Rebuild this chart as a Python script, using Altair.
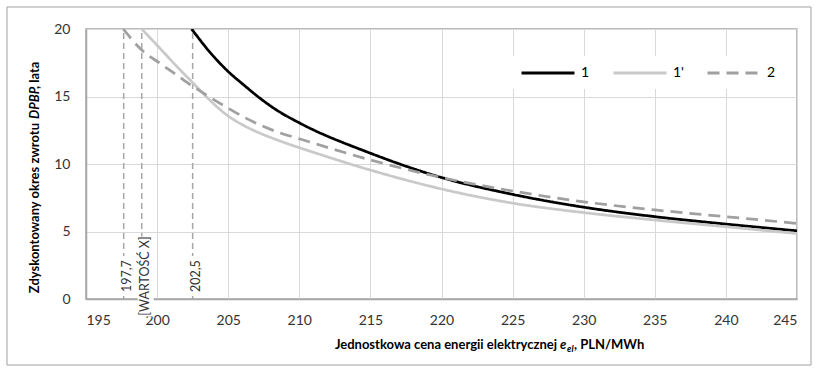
import altair as alt
import pandas as pd

# ---- data ----
series = ["1", "1'", "2"]
x_s1 = [202.43, 203.7, 204.9, 206.1, 207.2, 208.4, 210, 215, 220, 225, 230, 235, 240, 245]
y_s1 = [20.0, 18.3, 16.95, 15.85, 14.9, 14.0, 13.05, 10.8, 9.0, 7.75, 6.8, 6.1, 5.55, 5.05]
x_s1p = [198.92, 200.2, 201.4, 202.55, 203.7, 204.9, 206.1, 207.2, 208.4, 209.6, 210.75,
         215, 220, 225, 230, 235, 240, 245]
y_s1p = [20.0, 18.57, 17.21, 15.98, 14.74, 13.63, 12.85, 12.3, 11.8, 11.35, 10.95,
         9.55, 8.15, 7.1, 6.4, 5.85, 5.35, 4.85]
x_s2 = [197.62, 198.92, 200.2, 201.38, 202.55, 203.72, 204.89, 206.06, 207.24, 208.41,
        210.28, 215, 220, 225, 230, 235, 240, 245]
y_s2 = [20.0, 18.44, 17.46, 16.59, 15.73, 14.94, 14.2, 13.5, 12.89, 12.39,
        11.78, 10.3, 9.0, 8.0, 7.2, 6.6, 6.1, 5.6]
marker_x = [197.65, 198.92, 202.5]
marker_labels = ["197,7", "[WARTOŚĆ X]", "202,5"]
x_ticks = [195, 200, 205, 210, 215, 220, 225, 230, 235, 240, 245]
y_ticks = [0, 5, 10, 15, 20]

colors = ["#000000", "#c9c9c9", "#a0a0a0"]
dashes = [[1, 0], [1, 0], [12, 7]]
FONT = "Lato"

rows = []
for name, xs, ys in zip(series, [x_s1, x_s1p, x_s2], [y_s1, y_s1p, y_s2]):
    for xv, yv in zip(xs, ys):
        rows.append({"series": name, "x": xv, "y": yv})
lines_df = pd.DataFrame(rows)
markers_df = pd.DataFrame({"x": marker_x, "label": marker_labels})
one = pd.DataFrame({"k": [0]})

xscale = alt.Scale(domain=[195, 245], nice=False, zero=False)
yscale = alt.Scale(domain=[0, 20], nice=False)

legend = alt.Legend(
    title=None, orient="none", legendX=424, legendY=6, direction="horizontal",
    columns=3, symbolType="stroke", symbolSize=2809, symbolStrokeWidth=3,
    labelFont=FONT, labelFontSize=14, labelColor="#000000", labelOffset=5,
    columnPadding=17, padding=10,
)

legend_bg = alt.Chart(one).mark_rect(fill="#ffffff", strokeWidth=0).encode(
    x=alt.value(422), x2=alt.value(686), y=alt.value(27), y2=alt.value(60)
)

lines = alt.Chart(lines_df).mark_line(strokeWidth=2.75, interpolate="monotone", clip=True).encode(
    x=alt.X("x:Q", scale=xscale,
            axis=alt.Axis(values=x_ticks, title=None, grid=True, ticks=False,
                          labelPadding=14, format="d")),
    y=alt.Y("y:Q", scale=yscale,
            axis=alt.Axis(values=y_ticks, title=None, grid=True, ticks=False,
                          labelPadding=16, format="d")),
    color=alt.Color("series:N", scale=alt.Scale(domain=series, range=colors), legend=legend),
    strokeDash=alt.StrokeDash("series:N", scale=alt.Scale(domain=series, range=dashes), legend=legend),
    order=alt.Order("x:Q"),
)

rules = alt.Chart(markers_df).mark_rule(color="#a6a6a6", strokeWidth=1.5, strokeDash=[6, 4]).encode(
    x=alt.X("x:Q", scale=xscale), y=alt.datum(0, scale=yscale), y2=alt.datum(20)
)

box_small = alt.Chart(markers_df).transform_filter(
    alt.datum.label != "[WARTOŚĆ X]"
).mark_point(shape="M-0.35,-1H0.35V1H-0.35Z", size=1600, filled=True,
             fill="#ffffff", opacity=1, strokeWidth=0, xOffset=3).encode(
    x=alt.X("x:Q", scale=xscale), y=alt.datum(1.7, scale=yscale)
)
box_big = alt.Chart(markers_df).transform_filter(
    alt.datum.label == "[WARTOŚĆ X]"
).mark_point(shape="M-0.2,-1H0.2V1H-0.2Z", size=6400, filled=True,
             fill="#ffffff", opacity=1, strokeWidth=0, xOffset=4).encode(
    x=alt.X("x:Q", scale=xscale), y=alt.datum(1.67, scale=yscale)
)
marker_text = alt.Chart(markers_df).mark_text(
    angle=270, align="center", baseline="middle", font=FONT, fontSize=12.5,
    color="#333333", xOffset=3
).encode(
    x=alt.X("x:Q", scale=xscale), y=alt.datum(1.7, scale=yscale), text="label:N"
)

# ---- axis titles composed of styled parts ----
def txt(s, x, y, align, size=13, italic=False, angle=0, baseline="middle"):
    kw = dict(text=s, align=align, baseline=baseline, font=FONT, fontSize=size,
              fontWeight="bold", color="#000000")
    if italic:
        kw["fontStyle"] = "italic"
    if angle:
        kw["angle"] = angle
    return alt.Chart(one).mark_text(**kw).encode(x=alt.value(x), y=alt.value(y))

xt_y = 320
xtitle = [
    txt("Jednostkowa cena energii elektrycznej", 471, xt_y, "right", baseline="alphabetic"),
    txt("e", 474, xt_y, "left", italic=True, baseline="alphabetic"),
    txt("el", 481, xt_y + 3, "left", size=9, italic=True, baseline="alphabetic"),
    txt(", PLN/MWh", 488, xt_y, "left", baseline="alphabetic"),
]
yt_x = -51
ytitle = [
    txt("Zdyskontowany okres zwrotu", yt_x, 94, "right", angle=270),
    txt("DPBP", yt_x, 90, "left", italic=True, angle=270),
    txt(", lata", yt_x, 60, "left", angle=270),
]

border = alt.Chart(one).mark_rect(fillOpacity=0, stroke="#a0a0a0", strokeWidth=1).encode(
    x=alt.value(-79), x2=alt.value(725), y=alt.value(-22), y2=alt.value(336)
)

chart = alt.layer(
    rules, legend_bg, lines, box_small, box_big, marker_text, border, *xtitle, *ytitle
).properties(
    width=711, height=270,
    padding={"left": 86, "top": 29, "right": 19, "bottom": 72},
    autosize=alt.AutoSizeParams(type="none"),
).configure_view(stroke="#a6a6a6", strokeWidth=1.5).configure_axis(
    gridColor="#d9d9d9", gridWidth=1, domainColor="#a6a6a6", domainWidth=1.5,
    labelFont=FONT, labelFontSize=14, labelColor="#333333",
)

chart.save("out.html", embed_options={"renderer": "svg", "actions": False})
